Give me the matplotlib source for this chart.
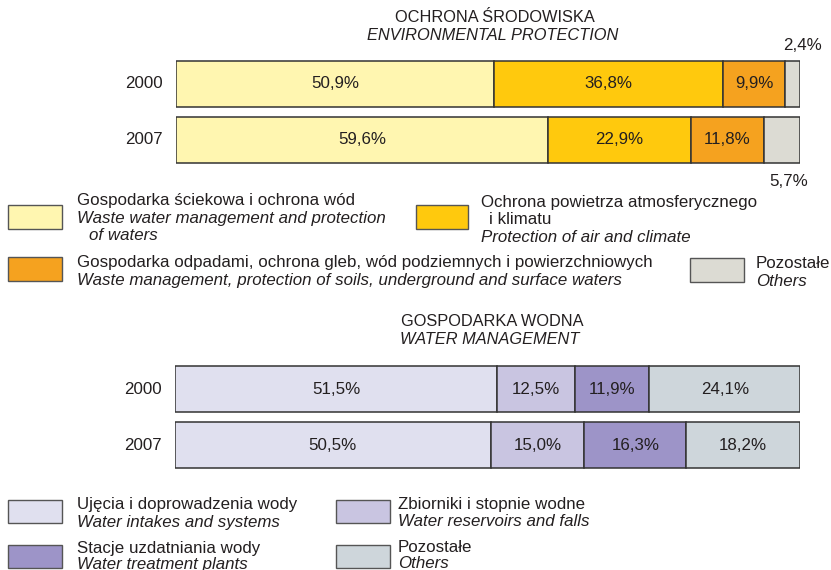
import matplotlib.pyplot as plt
from matplotlib.patches import Rectangle

plt.rcParams['font.family'] = ['Liberation Sans', 'DejaVu Sans']

years = ['2000', '2007']

# environmental protection, shares in %
env_sewage = [50.9, 59.6]
env_air = [36.8, 22.9]
env_waste = [9.9, 11.8]
env_other = [2.4, 5.7]
env_colors = ['#fff6b0', '#ffc90d', '#f5a21f', '#dcdbd3']

# water management, shares in %
wat_intakes = [51.5, 50.5]
wat_reservoirs = [12.5, 15.0]
wat_treatment = [11.9, 16.3]
wat_other = [24.1, 18.2]
wat_colors = ['#e0e0ef', '#c9c5e1', '#9d94c8', '#ced6db']

W, H = 831, 570
FS = 12.2
fig = plt.figure(figsize=(W / 100, H / 100), dpi=100)
fig.patch.set_facecolor('white')


def fx(x):
    return x / W


def fy(y):
    return 1 - y / H


def txt(x, y, s, **kw):
    kw.setdefault('fontsize', FS)
    kw.setdefault('va', 'center')
    kw.setdefault('color', '#231f20')
    fig.text(fx(x), fy(y), s, **kw)


def fmt(v):
    return f'{v:.1f}%'.replace('.', ',')


def stacked(left, top, right, bottom, series, colors):
    ax = fig.add_axes([fx(left), fy(bottom), fx(right - left), (bottom - top) / H])
    ax.set_xlim(0, 100)
    ax.set_ylim(1.5, -0.5)
    ax.axis('off')
    for i in range(len(years)):
        start = 0
        for vals, c in zip(series, colors):
            v = vals[i]
            ax.barh(i, v, left=start, height=0.82, color=c,
                    edgecolor='#333333', linewidth=1.1)
            if v > 8:
                ax.text(start + v / 2, i, fmt(v), ha='center', va='center',
                        fontsize=FS, color='#231f20')
            start += v
        ax.text(-2.1, i, years[i], ha='right', va='center',
                fontsize=FS, color='#231f20')
    return ax


def box(x0, y0, x1, y1, color):
    fig.add_artist(Rectangle((fx(x0), fy(y1)), fx(x1 - x0), (y1 - y0) / H,
                             transform=fig.transFigure, facecolor=color,
                             edgecolor='#555555', linewidth=1.0))


# ---- top chart
txt(495, 17, 'OCHRONA ŚRODOWISKA', ha='center', fontsize=11.8)
txt(493, 36, 'ENVIRONMENTAL PROTECTION', ha='center', style='italic', fontsize=11.8)
ax1 = stacked(176, 56, 800, 168, [env_sewage, env_air, env_waste, env_other],
              env_colors)
txt(803, 46, fmt(env_other[0]), ha='center')
txt(789, 181, fmt(env_other[1]), ha='center')

box(8, 205, 62, 229, env_colors[0])
txt(77, 200, 'Gospodarka ściekowa i ochrona wód')
txt(77, 218, 'Waste water management and protection', style='italic')
txt(89, 236, 'of waters', style='italic')

box(416, 205, 468, 229, env_colors[1])
txt(481, 202, 'Ochrona powietrza atmosferycznego')
txt(489, 219, 'i klimatu')
txt(481, 237, 'Protection of air and climate', style='italic')

box(8, 257, 62, 281, env_colors[2])
txt(77, 263, 'Gospodarka odpadami, ochrona gleb, wód podziemnych i powierzchniowych')
txt(77, 281, 'Waste management, protection of soils, underground and surface waters',
    style='italic')

box(690, 258, 744, 282, env_colors[3])
txt(756, 263, 'Pozostałe')
txt(756, 281, 'Others', style='italic')

# ---- bottom chart
txt(492, 322, 'GOSPODARKA WODNA', ha='center', fontsize=11.8)
txt(490, 340, 'WATER MANAGEMENT', ha='center', style='italic', fontsize=11.8)
ax2 = stacked(175, 361, 800, 473,
              [wat_intakes, wat_reservoirs, wat_treatment, wat_other], wat_colors)

box(8, 500, 62, 523, wat_colors[0])
txt(77, 505, 'Ujęcia i doprowadzenia wody')
txt(77, 522, 'Water intakes and systems', style='italic')

box(336, 500, 390, 523, wat_colors[1])
txt(398, 505, 'Zbiorniki i stopnie wodne')
txt(398, 522, 'Water reservoirs and falls', style='italic')

box(8, 545, 62, 568, wat_colors[2])
txt(77, 548, 'Stacje uzdatniania wody')
txt(77, 564, 'Water treatment plants', style='italic')

box(336, 545, 390, 568, wat_colors[3])
txt(398, 548, 'Pozostałe')
txt(398, 564, 'Others', style='italic')

fig.savefig('out.png', dpi=100)
